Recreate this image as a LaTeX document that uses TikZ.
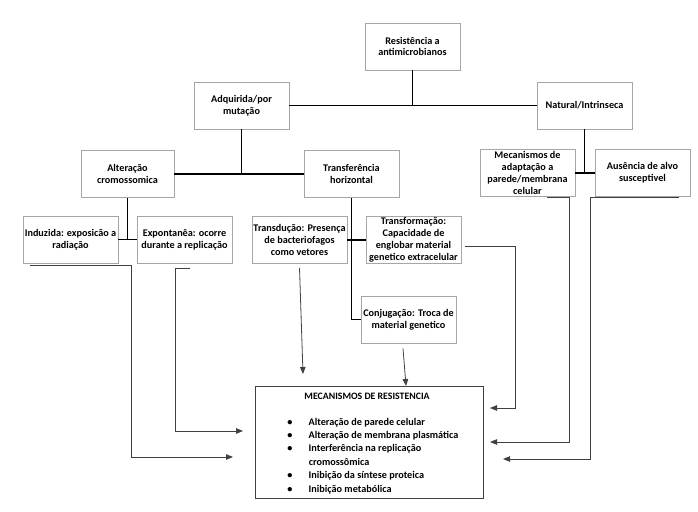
\documentclass[tikz,border=0pt]{standalone}
\usepackage{fontspec}
\setmainfont{Carlito}
\usetikzlibrary{arrows.meta,positioning,calc}
\tikzset{
  block/.style={draw=black!35, line width=0.7pt, align=center, fill=white,
    minimum width=95pt, minimum height=47pt, inner sep=0.5pt,
    font=\bfseries\fontsize{10.2}{11.8}\selectfont},
  bigblock/.style={block, draw=black!75, line width=0.9pt,
    minimum width=228pt, minimum height=112pt},
  link/.style={line width=1.6pt, black},
  arr/.style={-{Triangle[length=7pt,width=5.5pt]}, line width=0.8pt, black!75},
  txt/.style={inner sep=0pt, font=\bfseries\fontsize{10.2}{13.4}\selectfont}
}
\begin{document}
\begin{tikzpicture}[x=1pt,y=-1pt]
  \useasboundingbox (0,0) rectangle (698,511);

  \node[block] (res) at (412.5,46.5) {Resistência a\\antimicrobianos};
  \node[block] (adq) at (241.5,105.5) {Adquirida/por\\mutação};
  \node[block] (nat) at (584.5,105.5) {Natural/Intrinseca};

  \node[block, minimum width=93pt] (alt) at (127.5,174) {Alteração\\cromossomica};
  \node[block] (trans) at (351.5,174) {Transferência\\horizontal};
  \node[block] (madapt) at (527.5,173) {Mecanismos de\\adaptação a\\parede/membrana\\celular};
  \node[block] (aus) at (642.5,173) {Ausência de alvo\\susceptivel};

  \node[block] (ind) at (70.5,239.5) {Induzida: exposicão a\\radiação};
  \node[block] (exp) at (184.5,239.5) {Expontanêa: ocorre\\durante a replicação};
  \node[block] (tdu) at (299.5,240) {Transdução: Presença\\de bacteriofagos\\como vetores};
  \node[block] (tfo) at (413.5,240) {Transformação:\\Capacidade de\\englobar material\\genetico extracelular};
  \node[block] (conj) at (408.5,319.5) {Conjugação: Troca de\\material genetico};

  \node[bigblock] (mec) at (369,442) {};
  \node[txt, font=\bfseries\fontsize{9.8}{12}\selectfont] (mectitle) at ([xshift=-2pt,yshift=-11pt]mec.north) {MECANISMOS DE RESISTENCIA};
  \node[txt, anchor=north west] (meclist) at ([xshift=29pt,yshift=-30pt]mec.north west) {%
    \begin{tabular}{@{}p{25pt}@{}l@{}}
      \hspace{3.5pt}\textbullet & Alteração de parede celular\\
      \hspace{3.5pt}\textbullet & Alteração de membrana plasmática\\
      \hspace{3.5pt}\textbullet & Interferência na replicação\\
                                & cromossômica\\
      \hspace{3.5pt}\textbullet & Inibição da síntese proteica\\
      \hspace{3.5pt}\textbullet & Inibição metabólica
    \end{tabular}};

  \draw[link] (adq.east) -- (nat.west);
  \draw[link] (res.south) -- (res.south |- adq.east);
  \draw[link] (adq.south) -- (adq.south |- alt.east);
  \draw[link] (alt.east) -- (trans.west);
  \draw[link] (nat.south) -- (nat.south |- madapt.east);
  \draw[link] (madapt.east) -- (aus.west);
  \draw[link] (alt.south) -- (alt.south |- ind.east);
  \draw[link] (ind.east) -- (exp.west);
  \draw[link] (tdu.east) -- (tfo.west);
  \draw[link] (trans.south) |- (conj.west);

  \coordinate (indtip) at (233,457);
  \coordinate (exptip) at (243,431);
  \coordinate (tdutip) at (303,374);
  \coordinate (conjtip) at (406,386);
  \coordinate (tfotip) at (490,408);
  \coordinate (madapttip) at (490,442);
  \coordinate (austip) at (503,459);

  \draw[arr] ([xshift=7pt,yshift=-2pt]ind.south west) -- ++(102,0) |- (indtip);
  \draw[arr] ([xshift=53pt,yshift=-5pt]exp.south west) -- ++(-14,0) |- (exptip);
  \draw[arr] ([yshift=-4pt]tdu.south) -- (tdutip);
  \draw[arr] ([xshift=-5.5pt,yshift=-5pt]conj.south) -- (conjtip);
  \draw[arr] ([xshift=4pt,yshift=-6.5pt]tfo.east) -- ++(50,0) |- (tfotip);
  \draw[arr] ([xshift=-28pt,yshift=-1pt]madapt.south east) -- ++(22,0) |- (madapttip);
  \draw[arr] ([xshift=-11pt,yshift=-1pt]aus.south east) -- ++(-89,0) |- (austip);
\end{tikzpicture}
\end{document}
